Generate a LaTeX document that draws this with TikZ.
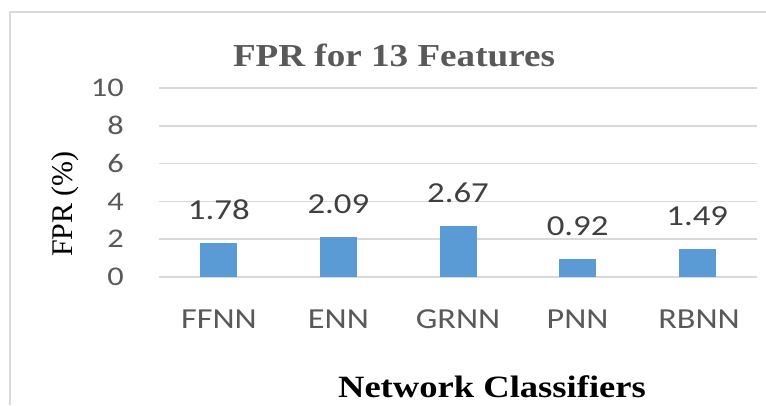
\documentclass[tikz,border=0pt]{standalone}
\usepackage{fontspec}
\setmainfont{Liberation Serif}
\newfontfamily\calibrifont{Carlito}
\usepackage{xcolor}
\usetikzlibrary{positioning}
\definecolor{BarBlue}{HTML}{5B9BD5}
\definecolor{GridGray}{HTML}{D9D9D9}
\definecolor{TextGray}{HTML}{595959}
\definecolor{LabelGray}{HTML}{404040}

\begin{document}
\begin{tikzpicture}[
    x=1pt, y=-1pt,
    grid/.style={draw=GridGray, line width=1.5pt},
    bar/.style={fill=BarBlue, draw=none, minimum width=37pt, inner sep=0pt, anchor=south},
    tick/.style={font=\calibrifont\fontsize{27}{30}\selectfont, text=TextGray, xscale=1.2, inner sep=0pt, anchor=east},
    cat/.style={font=\calibrifont\fontsize{29}{32}\selectfont, text=TextGray, xscale=1.18, inner sep=0pt},
    val/.style={font=\calibrifont\fontsize{29}{32}\selectfont, text=LabelGray, xscale=1.2, inner sep=0pt}
]
\useasboundingbox (0,0) rectangle (766,405);

% Frame
\draw[draw=GridGray, line width=1.8pt] (10,405) -- (10,12) -- (766,12);

% Grid and axis ticks
\foreach \v in {0,2,...,10}{
    \draw[grid] (159,277-\v*18.9) -- (757,277-\v*18.9);
    \node[tick] (t\v) at (124,277-\v*18.9) {\v};
}

% Bars
\node[bar, minimum height=1.78*18.9pt] (ffnn) at (218.8,277) {};
\node[bar, minimum height=2.09*18.9pt] (enn)  at (338.4,277) {};
\node[bar, minimum height=2.67*18.9pt] (grnn) at (458.0,277) {};
\node[bar, minimum height=0.92*18.9pt] (pnn)  at (577.6,277) {};
\node[bar, minimum height=1.49*18.9pt] (rbnn) at (697.2,277) {};

% Data labels
\node[val, above=23pt of ffnn] (vffnn) {1.78};
\node[val, above=23pt of enn]  (venn)  {2.09};
\node[val, above=23pt of grnn] (vgrnn) {2.67};
\node[val, above=23pt of pnn]  (vpnn)  {0.92};
\node[val, above=23pt of rbnn] (vrbnn) {1.49};

% Categories
\node[cat] (cffnn) at (219,319) {FFNN};
\node[cat] (cenn)  at (338.4,319) {ENN};
\node[cat] (cgrnn) at (458,319) {GRNN};
\node[cat] (cpnn)  at (577.6,319) {PNN};
\node[cat] (crbnn) at (699,319) {RBNN};

% Titles
\node[font=\bfseries\fontsize{32}{36}\selectfont, text=TextGray, xscale=1.16, inner sep=0pt] (title) at (394,55) {FPR for 13 Features};
\node[font=\fontsize{30}{34}\selectfont, rotate=90, inner sep=0pt] (ytitle) at (65,204) {FPR (\%)};
\node[font=\bfseries\fontsize{31}{35}\selectfont, xscale=1.18, inner sep=0pt] (xtitle) at (492,387) {Network Classifiers};

\end{tikzpicture}
\end{document}
